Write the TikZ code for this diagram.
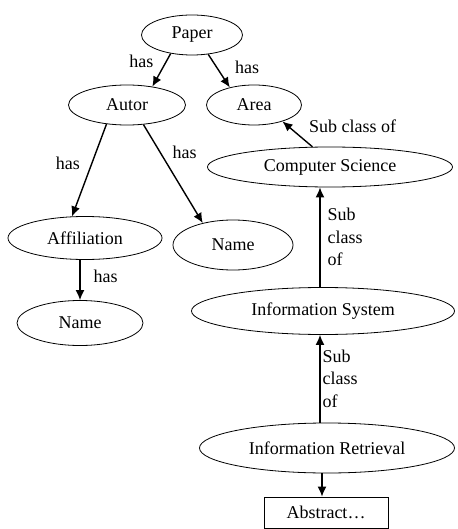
\documentclass[tikz,border=0pt]{standalone}
\usepackage{fontspec}
\setmainfont{Liberation Serif}
\usetikzlibrary{shapes.geometric,arrows.meta}

\begin{document}
\begin{tikzpicture}[
  x=1pt, y=-1pt,
  concept/.style={ellipse, draw, line width=0.8pt, inner sep=0pt, font=\fontsize{18}{22}\selectfont},
  doc/.style={rectangle, draw, line width=0.8pt, inner sep=0pt, minimum width=124pt, minimum height=31pt, font=\fontsize{18}{22}\selectfont},
  rel/.style={-{Latex[length=10pt,width=9pt]}, line width=1.4pt},
  lbl/.style={font=\fontsize{18}{22.5}\selectfont, inner sep=0pt, align=left}
]
\useasboundingbox (0,0) rectangle (457,529);

% ontology nodes
\node[concept, minimum width=101pt, minimum height=40pt] (paper) at (192,35) {Paper};
\node[concept, minimum width=117pt, minimum height=40pt] (autor) at (127,105) {Autor};
\node[concept, minimum width=95pt, minimum height=40pt] (area) at (254,105) {Area};
\node[concept, minimum width=245pt, minimum height=40pt] (cs) at (330,167) {Computer Science};
\node[concept, minimum width=154pt, minimum height=43pt] (affil) at (85,238) {Affiliation};
\node[concept, minimum width=120pt, minimum height=50pt] (authname) at (233,245) {Name};
\node[concept, minimum width=126pt, minimum height=45pt] (affilname) at (80,323) {Name};
\node[concept, minimum width=263pt, minimum height=47pt] (infosys) at (323,311) {Information System};
\node[concept, minimum width=255pt, minimum height=50pt] (inforet) at (327,448) {Information Retrieval};
\node[doc] (abstract) at (326,512.5) {Abstract\dots};

% relations
\draw[rel] (paper.221) -- node[lbl, pos=0.25, left=12pt] {has} (autor.36);
\draw[rel] (paper.310) -- node[lbl, pos=0.38, right=18pt] {has} (area.144);
\draw[rel] (autor.223) -- node[lbl, pos=0.43, left=11pt] {has} (affil.121);
\draw[rel] (autor.310) -- node[lbl, pos=0.28, right=12pt] {has} (authname.144);
\draw[rel] (affil.south -| affilname.north) -- node[lbl, pos=0.4, right=13pt] {has} (affilname.north);
\draw[rel] (cs.131) -- node[lbl, pos=0.8, right=20pt] {Sub class of} (area.330);
\draw[rel] ([xshift=-3pt]infosys.north) -- node[lbl, midway, right=7pt] {Sub\\class\\of} ([xshift=-10pt]cs.south);
\draw[rel] ([xshift=-7pt]inforet.north) -- node[lbl, midway, right=2pt] {Sub\\class\\of} ([xshift=-3pt]infosys.south);
\draw[rel] ([xshift=-5pt]inforet.south) -- ([xshift=-4pt]abstract.north);
\end{tikzpicture}
\end{document}
